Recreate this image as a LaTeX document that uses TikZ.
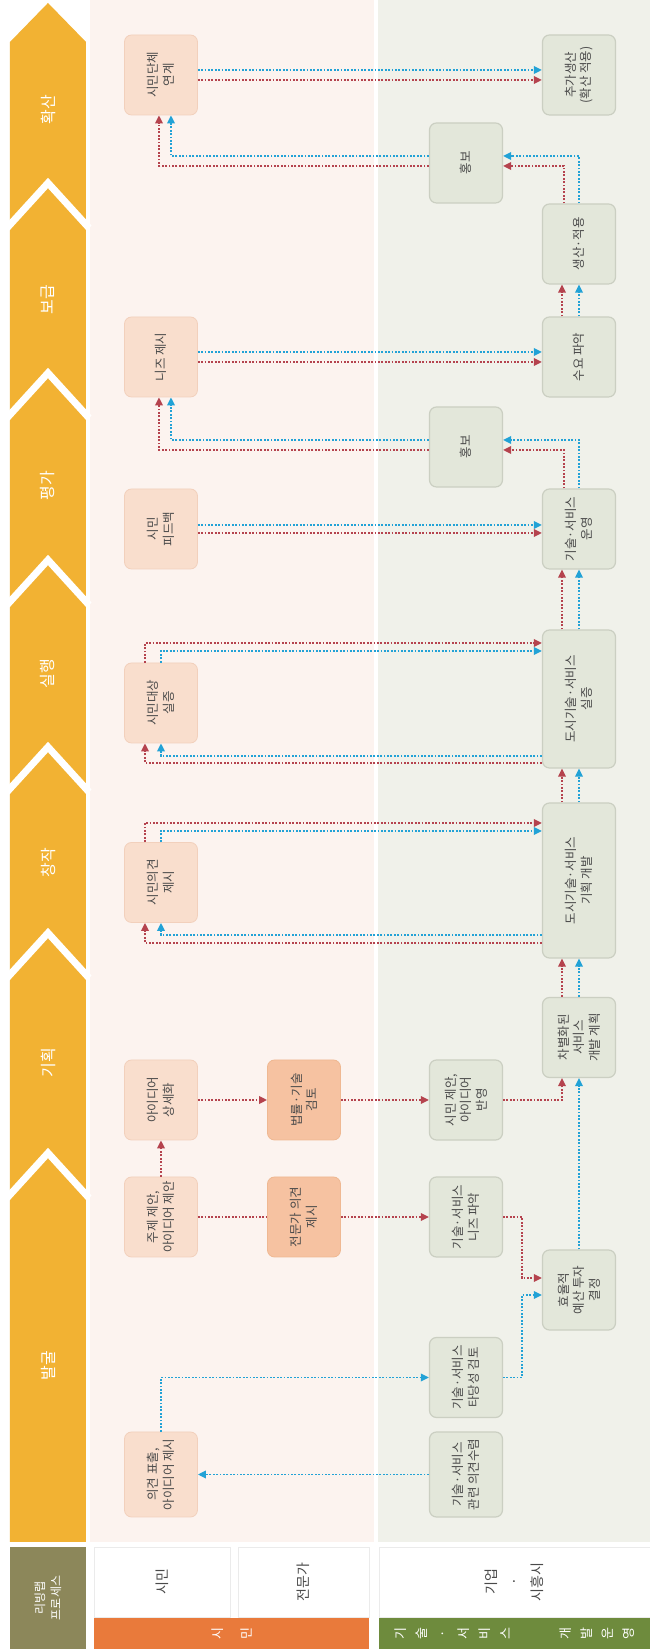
\documentclass[tikz,border=0pt]{standalone}
\usepackage{fontspec}
\setmainfont{Noto Sans CJK KR}
\usetikzlibrary{arrows.meta,calc}
\definecolor{yel}{HTML}{F2B233}
\definecolor{olv}{HTML}{8C875A}
\definecolor{org}{HTML}{E97A3B}
\definecolor{grn}{HTML}{6E8B3D}
\definecolor{pbg}{HTML}{FCF3EF}
\definecolor{gbg}{HTML}{F0F1EA}
\definecolor{citf}{HTML}{F9DECD}
\definecolor{citd}{HTML}{F2D0BC}
\definecolor{expf}{HTML}{F6C2A1}
\definecolor{expd}{HTML}{EFB892}
\definecolor{entf}{HTML}{E3E7DA}
\definecolor{entd}{HTML}{CBCFC2}
\definecolor{rd}{HTML}{B5434E}
\definecolor{bu}{HTML}{22A2D6}
\definecolor{txt}{HTML}{4A4A4A}

\begin{document}
\begin{tikzpicture}[x=1pt,y=1pt,rotate=90,transform shape,
  >={Triangle[length=8pt,width=7.5pt]},
  box/.style={rounded corners=7pt,minimum width=80pt,minimum height=73pt,inner sep=1pt,
    align=center,text=txt,font=\fontsize{12.5}{15.5}\selectfont},
  cit/.style={box,fill=citf,draw=citd,line width=.8pt},
  expt/.style={box,fill=expf,draw=expd,line width=.8pt},
  ent/.style={box,fill=entf,draw=entd,line width=1.2pt},
  cell/.style={fill=white,draw=black!8,inner sep=0pt,align=center,text=txt,
    font=\fontsize{14}{22}\selectfont},
  bar/.style={inner sep=0pt,minimum width=31pt,text=white,align=center,
    font=\fontsize{13}{21}\selectfont},
  phase/.style={text=white,font=\fontsize{16}{16}\selectfont},
  rl/.style={draw=rd,line width=1.8pt,dash pattern=on 1.8pt off 1.6pt},
  bl/.style={draw=bu,line width=1.8pt,dash pattern=on 1.8pt off 1.6pt}]
\useasboundingbox (0,0) rectangle (1649,650);

\fill[pbg] (107,276) rectangle (1649,560);
\fill[gbg] (107,0) rectangle (1649,272);
\fill[yel] (107,564) -- (1607,564) -- (1646,602) -- (1607,640) -- (107,640) -- cycle;
\foreach \a in {1466,1276,1089,902,716,496}
  \draw[white,line width=7pt] (\a-45,561) -- (\a,602) -- (\a-45,643);
\foreach \lab/\x in {발굴/283,기획/586,창작/786,실행/975,평가/1163,보급/1349,확산/1539}
  \node[phase] (p\x) at (\x,602) {\lab};

\node[fill=olv,minimum width=102pt,minimum height=76pt,inner sep=0pt,text=white,align=center,
  font=\fontsize{12}{16}\selectfont] (lv) at (51,602) {리빙랩\\프로세스};
\node[cell,minimum width=70pt,minimum height=136pt] (rc) at (67,488) {시민};
\node[cell,minimum width=70pt,minimum height=131pt] (re) at (67,346.5) {전문가};
\node[cell,minimum width=70pt,minimum height=271pt,font=\fontsize{14}{23}\selectfont] (rb) at (67,135.5) {기업\\·\\시흥시};
\node[bar,fill=org,minimum height=275pt] (ob) at (15.5,418.5) {시\\[8pt]민};
\node[bar,fill=grn,minimum height=271pt] (gb) at (15.5,135.5) {기\\술\\·\\서\\비\\스\\[39pt]개\\발\\운\\영};

\node[cit,minimum width=85pt] (yg) at (174.5,489) {의견 표출,\\아이디어 제시};
\node[cit] (ju) at (432,489) {주제 제안,\\아이디어 제안};
\node[cit] (sa) at (549,489) {아이디어\\상세화};
\node[cit] (c1) at (766.5,489) {시민의견\\제시};
\node[cit] (c2) at (946,489) {시민대상\\실증};
\node[cit] (c3) at (1120,489) {시민\\피드백};
\node[cit] (c4) at (1292,489) {니즈 제시};
\node[cit] (c5) at (1574,489) {시민단체\\연계};

\node[expt] (e1) at (432,346) {전문가 의견\\제시};
\node[expt] (e2) at (549,346) {법률·기술\\검토};

\node[ent,minimum width=85pt] (su) at (174.5,184) {기술·서비스\\관련 의견수렴};
\node[ent] (ta) at (271.5,184) {기술·서비스\\타당성 검토};
\node[ent] (np) at (432,184) {기술·서비스\\니즈 파악};
\node[ent] (ba) at (549,184) {시민 제안,\\아이디어\\반영};
\node[ent] (h1) at (1202,184) {홍보};
\node[ent] (h2) at (1486,184) {홍보};
\node[ent] (hy) at (359,71) {효율적\\예산 투자\\결정};
\node[ent] (ch) at (611.5,71) {차별화된\\서비스\\개발 계획};
\node[ent,minimum width=155pt] (gd) at (768.5,71) {도시기술·서비스\\기획 개발};
\node[ent,minimum width=138pt] (sj) at (950,71) {도시기술·서비스\\실증};
\node[ent] (un) at (1120,71) {기술·서비스\\운영};
\node[ent] (sy) at (1292,71) {수요 파악};
\node[ent] (sg) at (1405,71) {생산·적용};
\node[ent] (ad) at (1574,71) {추가생산\\(확산 적용)};

\draw[bl,->] (su.north) -- (yg.south);
\draw[bl,->] (yg.east) -- (271.5,489) -- (ta.north);
\draw[bl,->] (ta.south) -- (271.5,128) -- (354,128) -- ($(hy.north)+(-5,0)$);
\draw[rl,->] (np.south) -- (432,128) -- (371,128) -- ($(hy.north)+(12,0)$);
\draw[rl,->] (ju.east) -- (sa.west);
\draw[rl] (ju.south) -- (e1.north);
\draw[rl,->] (e1.south) -- (np.north);
\draw[rl,->] (sa.south) -- (e2.north);
\draw[rl,->] (e2.south) -- (ba.north);
\draw[bl,->] (hy.east) -- (ch.west);
\draw[rl,->] (ba.south) -- (549,88) -- ($(ch.west)+(0,17)$);
\foreach \a/\b in {ch/gd,gd/sj,sj/un,sy/sg}{
  \draw[rl,->] ($(\a.east)+(0,17)$) -- ($(\b.west)+(0,17)$);
  \draw[bl,->] (\a.east) -- (\b.west);
}

\draw[rl,->] ($(c1.east)+(0,16)$) -- (826,505) -- ($(gd.north)+(57.5,0)$);
\draw[bl,->] (c1.east) -- (818,489) -- ($(gd.north)+(49.5,0)$);
\draw[bl,->] ($(gd.north)+(-54.5,0)$) -- (714,489) -- (c1.west);
\draw[rl,->] ($(gd.north)+(-62.5,0)$) -- (706,505) -- ($(c1.west)+(0,16)$);

\draw[rl,->] ($(c2.east)+(0,16)$) -- (1006,505) -- ($(sj.north)+(56,0)$);
\draw[bl,->] (c2.east) -- (998,489) -- ($(sj.north)+(48,0)$);
\draw[bl,->] ($(sj.north)+(-57,0)$) -- (893,489) -- (c2.west);
\draw[rl,->] ($(sj.north)+(-64,0)$) -- (886,505) -- ($(c2.west)+(0,16)$);

\draw[bl,->] ($(c3.south)+(4,0)$) -- ($(un.north)+(4,0)$);
\draw[rl,->] ($(c3.south)+(-4,0)$) -- ($(un.north)+(-4,0)$);
\draw[bl,->] (un.east) -- (1209,71) -- ($(h1.south)+(7,0)$);
\draw[rl,->] ($(un.east)+(0,15)$) -- (1199,86) -- ($(h1.south)+(-3,0)$);
\draw[bl,->] ($(h1.north)+(7,0)$) -- (1209,479) -- ($(c4.west)+(0,-10)$);
\draw[rl,->] ($(h1.north)+(-3,0)$) -- (1199,491) -- ($(c4.west)+(0,2)$);
\draw[bl,->] ($(c4.south)+(5,0)$) -- ($(sy.north)+(5,0)$);
\draw[rl,->] ($(c4.south)+(-5,0)$) -- ($(sy.north)+(-5,0)$);

\draw[bl,->] (sg.east) -- (1493,71) -- ($(h2.south)+(7,0)$);
\draw[rl,->] ($(sg.east)+(0,15)$) -- (1483,86) -- ($(h2.south)+(-3,0)$);
\draw[bl,->] ($(h2.north)+(7,0)$) -- (1493,479) -- ($(c5.west)+(0,-10)$);
\draw[rl,->] ($(h2.north)+(-3,0)$) -- (1483,491) -- ($(c5.west)+(0,2)$);
\draw[bl,->] ($(c5.south)+(5,0)$) -- ($(ad.north)+(5,0)$);
\draw[rl,->] ($(c5.south)+(-5,0)$) -- ($(ad.north)+(-5,0)$);
\end{tikzpicture}
\end{document}
